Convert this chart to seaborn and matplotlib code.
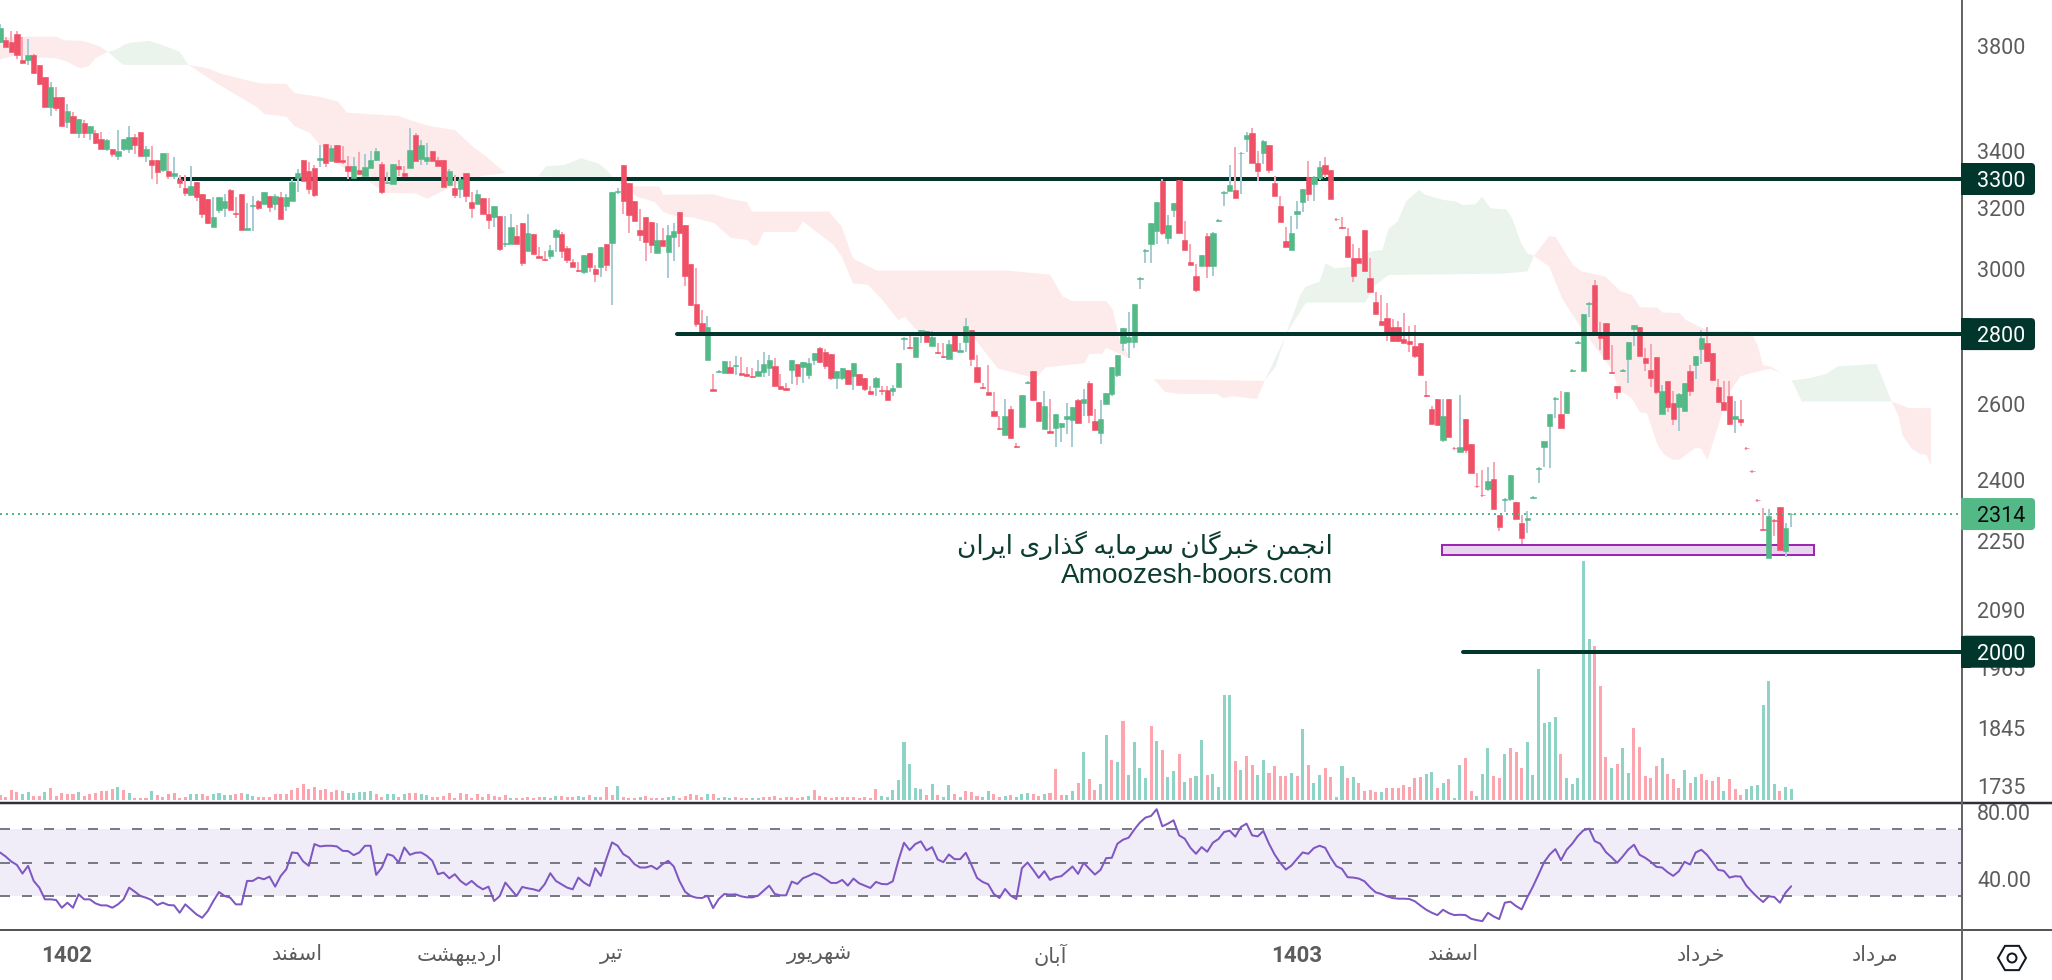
import numpy as np
import pandas as pd
import matplotlib
matplotlib.use("Agg")
import matplotlib.pyplot as plt
from matplotlib.lines import Line2D
from matplotlib.patches import FancyBboxPatch, RegularPolygon, Circle, Rectangle
from matplotlib.ticker import NullLocator
from matplotlib.transforms import IdentityTransform
import seaborn as sns

# ---------- data ----------
open_ = [
3815,3822,3817,3849,3743,3743,3763,3724,3677,3563,
3600,3600,3507,3528,3466,3502,3466,3466,3444,3407,
3407,3381,3407,3407,3451,3470,3381,3367,3367,3332,
3328,3311,3301,3269,3245,3290,3248,3231,3137,3193,
3200,3262,3183,3248,3127,3207,3224,3214,3241,3214,
3238,3207,3224,3302,3367,3328,3339,3367,3425,3363,
3421,3367,3345,3304,3332,3311,3339,3367,3353,3287,
3284,3345,3321,3339,3459,3370,3363,3399,3367,3367,
3280,3269,3266,3321,3220,3214,3234,3180,3170,3173,
3080,3080,3107,3150,3058,3114,3042,3032,3042,3104,
3114,3068,3022,2997,2991,3051,3000,3006,3080,3084,
3255,3349,3287,3224,3127,3170,3154,3051,3094,3055,
3104,3187,3144,3016,2891,2833,2724,2642,2690,2687,
2704,2707,2687,2684,2679,2679,2690,2701,2707,2651,
2645,2696,2713,2704,2681,2724,2759,2748,2742,2673,
2673,2696,2679,2684,2673,2636,2648,2639,2639,2636,
2648,2785,2762,2733,2808,2809,2765,2748,2736,2727,
2803,2748,2777,2812,2704,2648,2634,2581,2535,2516,
2586,2487,2537,2659,2693,2605,2532,2526,2535,2537,
2559,2556,2611,2603,2659,2554,2521,2600,2628,2681,
2774,2777,2777,2969,3059,3081,3124,3293,3101,3193,
3296,3094,3022,2978,3009,3107,3009,3157,3252,3258,
3262,3391,3444,3466,3356,3393,3422,3286,3206,3091,
3062,3180,3220,3307,3282,3303,3349,3331,3164,3135,
3106,3035,3035,3126,2972,2897,2839,2848,2821,2821,
2785,2780,2765,2774,2625,2587,2614,2503,2614,2482,
2472,2560,2493,2385,2362,2377,2402,2312,2349,2352,
2344,2293,2300,2354,2428,2485,2541,2614,2573,2576,
2693,2774,2693,2891,2950,2797,2833,2690,2651,2693,
2728,2815,2821,2730,2696,2733,2573,2665,2603,2592,
2581,2693,2710,2756,2774,2745,2648,2606,2622,2558,
2560,2482,2422,2349,2277,2209,2300,2332,2226,2314]
high = [
3887,3834,3862,3862,3834,3829,3767,3724,3677,3657,
3638,3600,3573,3542,3517,3513,3491,3477,3470,3444,
3407,3477,3444,3491,3462,3470,3418,3418,3367,3392,
3392,3377,3315,3315,3345,3290,3248,3231,3238,3238,
3248,3266,3238,3248,3217,3241,3227,3255,3241,3248,
3255,3248,3301,3335,3367,3359,3349,3421,3425,3421,
3421,3418,3381,3377,3396,3389,3399,3410,3359,3325,
3353,3367,3345,3484,3466,3440,3429,3399,3377,3367,
3335,3315,3308,3321,3255,3262,3234,3234,3207,3173,
3173,3180,3143,3150,3180,3114,3071,3058,3077,3130,
3120,3074,3032,3022,3045,3051,3012,3071,3080,3255,
3268,3349,3287,3224,3197,3170,3154,3150,3134,3143,
3150,3187,3144,3016,3003,2873,2854,2684,2696,2721,
2721,2736,2733,2704,2701,2724,2748,2739,2730,2684,
2659,2724,2713,2719,2730,2745,2762,2756,2742,2693,
2701,2696,2716,2684,2673,2651,2676,2651,2651,2653,
2716,2791,2794,2791,2811,2809,2809,2774,2774,2782,
2803,2774,2848,2812,2739,2659,2710,2634,2567,2614,
2595,2495,2625,2665,2693,2605,2636,2614,2572,2548,
2603,2592,2614,2642,2665,2586,2611,2631,2704,2739,
2818,2867,2891,2975,3065,3151,3220,3300,3177,3217,
3296,3157,3081,3016,3046,3117,3121,3164,3258,3349,
3415,3396,3470,3485,3400,3440,3422,3311,3241,3137,
3173,3224,3266,3362,3311,3362,3378,3331,3167,3170,
3133,3080,3068,3126,3035,2928,2919,2894,2845,2839,
2864,2824,2827,2774,2665,2595,2614,2614,2614,2485,
2625,2560,2493,2417,2425,2433,2446,2312,2354,2412,
2344,2312,2322,2359,2433,2501,2573,2620,2637,2634,
2699,2780,2861,2897,2966,2836,2833,2768,2651,2699,
2777,2827,2821,2759,2771,2733,2654,2665,2637,2631,
2660,2710,2736,2811,2821,2745,2671,2665,2665,2608,
2611,2485,2425,2352,2329,2327,2302,2332,2292,2317]
low = [
3811,3797,3776,3746,3733,3724,3689,3646,3563,3529,
3548,3491,3484,3466,3445,3445,3440,3425,3407,3399,
3379,3367,3399,3392,3389,3381,3359,3301,3284,3325,
3301,3301,3269,3241,3245,3224,3167,3147,3137,3183,
3170,3193,3167,3127,3127,3124,3193,3214,3187,3193,
3162,3190,3224,3255,3294,3248,3238,3342,3342,3363,
3356,3353,3301,3304,3318,3311,3339,3363,3248,3284,
3284,3311,3311,3339,3363,3349,3349,3363,3345,3272,
3276,3234,3234,3220,3167,3214,3180,3130,3137,3058,
3071,3080,3080,3009,3058,3048,3035,3025,3032,3055,
3035,3019,3006,2991,2985,2991,2960,2976,2994,2888,
3248,3180,3117,3157,3090,3025,3051,3051,3074,2972,
3025,3071,2947,2885,2821,2806,2724,2636,2687,2687,
2687,2681,2681,2679,2673,2679,2676,2679,2651,2642,
2636,2656,2653,2659,2670,2710,2716,2699,2667,2642,
2667,2653,2639,2651,2636,2628,2622,2625,2611,2622,
2648,2753,2756,2733,2774,2777,2765,2742,2730,2727,
2751,2748,2748,2707,2662,2642,2625,2567,2529,2516,
2508,2482,2537,2656,2608,2554,2532,2521,2484,2497,
2518,2484,2545,2567,2548,2529,2492,2600,2622,2676,
2751,2730,2759,2937,3019,3019,3081,3110,3081,3170,
3117,3062,3012,2928,3009,2972,2978,3154,3206,3258,
3234,3248,3396,3356,3293,3353,3321,3241,3153,3071,
3062,3130,3187,3224,3224,3296,3303,3231,3157,3130,
3039,2960,3019,2994,2928,2861,2827,2780,2777,2777,
2774,2748,2731,2682,2620,2547,2544,2498,2511,2477,
2472,2469,2417,2379,2357,2372,2327,2273,2320,2347,
2302,2242,2268,2352,2392,2433,2430,2563,2536,2576,
2690,2771,2693,2851,2803,2753,2725,2685,2614,2690,
2660,2765,2736,2693,2648,2628,2573,2579,2544,2527,
2581,2622,2671,2713,2719,2668,2606,2584,2544,2522,
2539,2477,2417,2345,2273,2209,2261,2228,2212,2282]
close = [
3873,3797,3776,3763,3733,3763,3694,3649,3563,3638,
3559,3491,3546,3466,3517,3466,3491,3429,3407,3440,
3389,3399,3444,3451,3421,3381,3407,3349,3325,3392,
3311,3321,3287,3252,3276,3238,3180,3150,3170,3238,
3224,3193,3181,3127,3134,3210,3200,3255,3203,3241,
3162,3238,3290,3321,3294,3266,3245,3374,3356,3410,
3359,3359,3328,3345,3318,3342,3367,3399,3255,3290,
3353,3335,3311,3403,3363,3421,3377,3363,3345,3272,
3328,3245,3301,3241,3200,3248,3180,3160,3207,3064,
3084,3137,3080,3019,3117,3048,3035,3029,3061,3127,
3058,3029,3006,2994,3045,3006,2985,3071,3012,3255,
3258,3224,3177,3157,3110,3087,3077,3094,3074,3110,
3124,3117,2978,2888,2830,2806,2821,2636,2693,2721,
2687,2710,2681,2679,2677,2693,2713,2724,2651,2642,
2639,2724,2679,2719,2716,2745,2719,2707,2673,2693,
2701,2656,2716,2653,2642,2628,2673,2637,2611,2645,
2716,2788,2758,2791,2811,2777,2791,2745,2733,2771,
2751,2753,2824,2727,2662,2645,2625,2567,2532,2567,
2508,2484,2625,2662,2611,2554,2595,2521,2572,2548,
2567,2592,2548,2614,2570,2529,2559,2631,2704,2739,
2818,2791,2891,2972,3062,3151,3220,3117,3144,3217,
3117,3062,3012,2934,3046,3009,3117,3160,3255,3279,
3234,3393,3459,3356,3328,3437,3331,3241,3153,3071,
3117,3190,3266,3248,3307,3342,3318,3231,3162,3133,
3039,2978,3019,2994,2928,2861,2827,2800,2780,2780,
2774,2771,2736,2682,2622,2547,2544,2568,2511,2481,
2485,2477,2417,2383,2360,2397,2327,2283,2352,2412,
2302,2256,2305,2357,2430,2501,2573,2618,2536,2634,
2696,2777,2861,2894,2803,2788,2728,2688,2634,2696,
2777,2827,2736,2716,2673,2634,2637,2592,2560,2628,
2660,2637,2736,2788,2722,2668,2606,2584,2547,2566,
2552,2481,2421,2348,2275,2310,2298,2228,2280,2315]

volume = [
5,3,10,8,6,8,4,4,8,12,4,7,6,6,8,4,6,7,9,9,11,13,10,7,
2,2,2,9,5,3,6,7,2,3,6,6,6,4,6,7,5,5,6,7,6,4,3,3,3,6,6,6,10,12,
16,11,13,10,11,8,10,9,7,7,8,8,9,6,3,6,6,3,6,7,7,6,5,3,3,4,7,2,7,6,
2,6,3,6,4,3,5,2,2,2,3,2,3,3,2,4,4,3,3,4,3,5,3,3,13,5,14,3,2,2,3,4,2,2,2,3,4,2,4,6,5,
3,6,6,2,3,2,3,2,2,2,2,3,3,4,2,3,3,2,3,4,10,4,3,2,3,3,3,3,2,3,
2,11,4,3,10,20,58,36,12,11,5,16,5,3,15,6,3,9,8,4,3,9,6,3,4,5,3,6,7,6,
4,6,7,31,5,5,9,17,48,21,10,16,65,40,38,79,25,58,32,22,74,59,50,23,29,46,18,22,24,60,
25,26,13,105,105,39,30,44,35,25,40,27,34,24,24,27,24,71,35,17,25,32,23,3,34,22,
23,17,9,10,8,8,12,12,12,15,13,22,23,26,28,12,17,21,2,35,
42,9,4,26,52,24,22,46,52,48,32,58,25,131,77,78,83,46,22,16,
22,239,161,154,114,43,32,36,52,27,72,53,24,22,34,42,26,21,12,30,
17,23,26,20,19,23,9,21,11,5,11,14,15,95,119,16,9,13,11]

# colour of each volume bar: T = rising (teal), P = falling (pink)
volume_dir = (
"PPPPTTPPTP" "PPPPTPPPPP" "PTPT"
"PPPTPPPPPP" "TTPPTTTTPP" "TTPPPPPPPP" "PPPPPPPPTT" "TTTPPTTPTP"
"PTTPPPPPPP" "PPPPPPPTPP" "PPPTPTPPPT" "TPTPPPTPPP" "TPPPPTTPPP" "P"
"PTPTTTPPPT" "TPPPPPPPPT" "PPPPPPPPPP" "PPTTTTTTTT" "PTPTTPTPPP"
"TTPPTPTTTP" "PTPPPTTPTP" "PTTPTPTTTT" "PTPTTPTPTT" "PTTTTPTPPT"
"TPPPPTPTPT" "TPPTTP"
"TPPPPTPPPP" "PPPTTPTPTT" "PPTTTPPTPP" "PTTTTTTPTT" "TTTPPPTPTT"
"PPPPPTPPPT" "PTPPPPTPPP" "TTTTTTPTT")

rsi = [
56,53.6,50.6,48.6,43.4,48,39,35,28,28,27.6,23,26,23,31,28,28,25.6,24.4,24.4,
23,25,28,35,32.6,30,29,27.6,24.6,26,24.6,24.4,20,25,22,19,17,21,27,32.4,
30,29,25,25,39,39,41,40,41.6,35.6,42,46,56,55.6,50.6,48,61,59.6,60,60,
59.6,57,56.8,54.4,56,60,60,42.6,47,55,54,50,59,54.6,55.8,56,54,51,43,44,
40.6,43,39,36.6,39,36,34,35.6,27,30,38,34,30,35.4,34.6,34,33,37,43.6,39,
37,35,34,41,38,36,46.6,42,52.4,62,60,55,53,49,47,47,48,46,49,51,
47.6,39,32.6,30,29,
28.8,30.2,22.8,28.2,31.2,30.8,31,29.8,29.2,29.2,30.2,33.2,36.2,31.2,30.4,30.4,38.6,37.2,40.6,42,
43.6,42.4,40.2,37.8,37.8,39.6,36.2,40.4,37.6,36.2,34.8,38.4,37.2,37,38.8,51.2,61.8,57.4,61,62.6,
57.2,59.2,51.8,50.2,54.8,52,52,55.8,48.6,40.8,38.4,37,31.2,28.8,34.2,30.2,28.2,46.6,50,45.6,
40.8,44.8,39.6,41.2,41.8,44.6,47.6,43.2,49.8,46.2,42.8,45.6,52.6,52.8,61.2,63.6,64.8,69.6,73.8,76.8,
77.8,81.8,71.6,73.2,75.2,66.2,64.2,58.8,55.2,59.2,56.4,61.8,64,68.2,69,65.4,71.2,73.2,66.2,65.6,
68.8,61.2,54.8,49.8,45.8,48.2,52.2,56,55.2,58.6,60,58.8,52.8,47.8,46.2,41.2,
41,40.4,38.8,35.2,32.2,31.2,29.8,28.8,28.4,28.4,28.2,26.8,24.2,21.8,20,18.6,21.8,19.8,18.6,18.8,
18.6,16.4,15.6,15,20,17.8,16.2,26,26.6,24,22,29.2,35.6,42.8,50.2,54.8,58,51.4,57.6,61.2,
65.8,69.2,70.2,62.8,61.2,56.2,53.2,49.8,53.6,57.8,60.6,54.6,52.8,50.4,47.4,47,44.2,42,44.8,50.4,
48.8,56,57.6,54.6,50.2,45.6,45,41,41.8,41.6,36.2,32.6,29.2,26.4,29.8,29.4,26,32,35.8]

# Ichimoku cloud outlines: (bar index, price) along upper and lower edge of each twist
cloud_r1_top = ([0,3.1,10,11.6,14.7,16.2,17.8,19.2],[3834,3837,3837,3822,3820,3810,3797,3776])
cloud_r1_bot = ([0,3.1,6.2,10,11.9,14.3,15.8,17,19.2],[3746,3763,3754,3750,3737,3710,3719,3750,3776])
cloud_g1_top = ([19.2,20.5,22,23.2,26.6,29.3,32,33.6],[3776,3783,3803,3812,3820,3800,3776,3724])
cloud_g1_bot = ([19.2,20.5,22,33.6],[3776,3750,3724,3724])
cloud_r2_top = ([33.6,37.1,39.4,43.2,46.3,51,52.5,57.1,60.2,61.8,71,73.4,76.4,81.1,84.2,86.5,90],
                [3724,3710,3689,3668,3652,3649,3614,3600,3582,3540,3528,3510,3491,3475,3415,3381,3321])
cloud_r2_bot = ([33.6,38.6,45.6,47.1,51,52.5,55.2,58.7,61.8,65.6,68.7,74.1,76.1,78,81.9,85.7,90],
                [3724,3652,3563,3535,3525,3489,3465,3379,3329,3292,3252,3250,3231,3250,3286,3310,3321])
cloud_g2_top = ([95.8,97.3,100.4,103.5,106.6,108,109.3],[3309,3345,3349,3373,3355,3332,3304])
cloud_g2_bot = ([95.8,109.3],[3309,3304])
cloud_r3_top = ([109.3,112.7,117.4,118.1,127.2,129.9,133,133.9,147.6,149.9,151.9,156.1,179.3,187,189.3,190.9,197,198.2,199.4,201.3],
                [3304,3274,3274,3245,3247,3231,3221,3188,3188,3138,3034,2995,2995,2982,2913,2900,2900,2873,2783,2729])
cloud_r3_bot = ([109.3,113.5,116.6,118.1,120.6,123.3,127.2,130.2,133,134.1,134.9,136,141.8,143,148.4,149.9,151.9,154.6,156.9,160,161.1,163.8,173.1,177.7,183.1,184.7,186.2,193.2,194,196.3,197,201.3],
                [3304,3238,3221,3187,3171,3169,3149,3100,3094,3076,3076,3120,3120,3155,3078,3040,2955,2950,2908,2842,2852,2802,2797,2700,2677,2677,2703,2715,2742,2742,2759,2729])
cloud_r4_top = ([205.5,225.2],[2669,2665])
cloud_r4_bot = ([205.5,207.5,209.8,216.7,217.9,219.4,223.9,225.2],[2669,2634,2628,2628,2616,2622,2614,2665])
cloud_g3_top = ([225.2,227.2,229.5,231.5,232.5,235,236.1,237.7,240.8,243.9,246.2,247.3,248.9,250.4,252.7,253.9,257,259.3,260.5,262.8,263.9,265.5,268.2,269.3,270.9,272,273.2],
                [2665,2705,2822,2915,2944,2960,3018,3002,3008,3056,3061,3131,3154,3222,3262,3245,3228,3222,3210,3213,3239,3199,3196,3166,3083,3051,3042])
cloud_g3_bot = ([225.2,229.5,232.6,243.1,245,247.3,267.4,272,273.2],[2665,2812,2895,2895,2950,2981,2985,2992,3042])
cloud_r5_top = ([273.2,275.9,277,280.1,281.7,285.9,288.6,290.6,292.1,295.2,296,299.1,300.2,302.5,304.5,311.8,313,314,315.3,317.2,319.1],
                [3042,3106,3104,3013,2992,2976,2930,2919,2881,2880,2865,2863,2843,2823,2809,2809,2768,2709,2706,2687,2666])
cloud_r5_bot = ([273.2,275.9,278.2,281.3,287.1,288.3,290.6,292.1,293.3,295.2,296.4,297.9,299.1,301.8,302.9,304.1,305.6,307.6,309.9,312.2,315.3,317.2,319.1],
                [3042,3008,2908,2825,2696,2640,2616,2577,2575,2490,2464,2451,2451,2481,2481,2451,2521,2621,2677,2688,2699,2687,2666])
cloud_g4_top = ([319.1,322.6,325.3,327.3,334.2,336.9],[2666,2673,2685,2706,2713,2607])
cloud_g4_bot = ([319.1,320.9,336.9],[2666,2607,2607])
cloud_r6_top = ([336.9,340,343.9],[2607,2589,2589])
cloud_r6_bot = ([336.9,338.1,338.8,340.4,341.9,343.1,343.9],[2607,2568,2516,2481,2466,2464,2435])

level_prices = [3300, 2800, 2000]
level_starts = [32, 120.6, 260.6]
level_layers = [2.5, 6, 6]
last_price = 2314
zone_low, zone_high = 2216, 2239
zone_start, zone_end = 256.8, 323.1

price_ticks = [3800, 3400, 3200, 3000, 2600, 2400, 2250, 2090, 1965, 1845, 1735]
rsi_ticks = [80, 40]
rsi_levels = [30, 50, 70]
time_ticks = [11.9, 52.9, 81.9, 109, 146, 187, 231, 258.8, 303, 333.9]
time_labels = ["1402", "اسفند", "اردیبهشت", "تیر", "شهریور", "آبان", "1403", "اسفند", "خرداد", "مرداد"]
watermark_fa = "انجمن خبرگان سرمایه گذاری ایران"
watermark_en = "Amoozesh-boors.com"

for name, arr in [("high", high), ("low", low), ("close", close), ("volume", volume), ("rsi", rsi), ("volume_dir", volume_dir)]:
    if len(arr) != len(open_):
        raise SystemExit(f"{name} length {len(arr)} != {len(open_)}")

# ---------- styling ----------
W, H = 2052, 980
sns.set_theme(style="white")
plt.rcParams["font.family"] = ["Roboto", "DejaVu Sans"]
GREEN, RED = "#53B987", "#EF5066"
WICK_G, WICK_R = "#A8CCD3", "#F7A8B4"
VOL_G, VOL_R = "#8FD3C7", "#FDA5AE"
DARK = "#01362C"
GREY = "#5C5C5C"
CLOUD_R, CLOUD_G = "#FDEBEC", "#EBF4EC"
PX = 72 / 100  # points per pixel

# matplotlib does not shape Arabic script, so pick the contextual glyphs here
FORMS = {"ا": (0xFE8D, 0xFE8E), "آ": (0xFE81, 0xFE82), "د": (0xFEA9, 0xFEAA), "ذ": (0xFEAB, 0xFEAC),
         "ر": (0xFEAD, 0xFEAE), "ز": (0xFEAF, 0xFEB0), "و": (0xFEED, 0xFEEE),
         "ب": (0xFE8F, 0xFE90, 0xFE91, 0xFE92), "پ": (0xFB56, 0xFB57, 0xFB58, 0xFB59),
         "ت": (0xFE95, 0xFE96, 0xFE97, 0xFE98), "ج": (0xFE9D, 0xFE9E, 0xFE9F, 0xFEA0),
         "خ": (0xFEA5, 0xFEA6, 0xFEA7, 0xFEA8), "س": (0xFEB1, 0xFEB2, 0xFEB3, 0xFEB4),
         "ش": (0xFEB5, 0xFEB6, 0xFEB7, 0xFEB8), "ف": (0xFED1, 0xFED2, 0xFED3, 0xFED4),
         "گ": (0xFB92, 0xFB93, 0xFB94, 0xFB95), "م": (0xFEE1, 0xFEE2, 0xFEE3, 0xFEE4),
         "ن": (0xFEE5, 0xFEE6, 0xFEE7, 0xFEE8), "ه": (0xFEE9, 0xFEEA, 0xFEEB, 0xFEEC),
         "ی": (0xFBFC, 0xFBFD, 0xFBFE, 0xFBFF)}

def shape(text):
    if not any(c in FORMS for c in text):
        return text
    out = []
    for i, c in enumerate(text):
        if c not in FORMS:
            out.append(c)
            continue
        prev_j = i > 0 and len(FORMS.get(text[i - 1], ())) == 4
        next_j = len(FORMS[c]) == 4 and i + 1 < len(text) and text[i + 1] in FORMS
        f = FORMS[c]
        if prev_j and next_j:
            g = f[3]
        elif prev_j:
            g = f[1]
        elif next_j:
            g = f[2]
        else:
            g = f[0]
        out.append(chr(g))
    return "".join(reversed(out))

fig = plt.figure(figsize=(W / 100, H / 100), dpi=100, facecolor="white")
main_rect = [0, (H - 802) / H, 1962 / W, 802 / H]
rsi_rect = [0, (H - 930) / H, 1962 / W, 128 / H]
ax_vol = fig.add_axes(main_rect, zorder=0)
ax = fig.add_axes(main_rect, zorder=1)
ax_rsi = fig.add_axes(rsi_rect, zorder=1)
ax.patch.set_visible(False)

n = len(open_)
idx = np.arange(n)
o, h, l, c = map(np.array, (open_, high, low, close))
up = c >= o
xlim = (0, 1962 / 5.615)

# volume
vol_df = pd.DataFrame({"bar": idx, "volume": volume, "dir": list(volume_dir)})
sns.barplot(data=vol_df, x="bar", y="volume", hue="dir", palette={"T": VOL_G, "P": VOL_R},
            native_scale=True, dodge=False, legend=False, ax=ax_vol, saturation=1)
for bar in ax_vol.patches:
    mid = bar.get_x() + bar.get_width() / 2
    bar.set_width(0.54)
    bar.set_x(mid - 0.27)
    bar.set_linewidth(0)
ax_vol.set_xlim(xlim)
ax_vol.set_ylim(-2, 800)
ax_vol.axis("off")

# price pane
ax.set_yscale("log")
clouds = [(CLOUD_R, cloud_r1_top, cloud_r1_bot), (CLOUD_G, cloud_g1_top, cloud_g1_bot),
          (CLOUD_R, cloud_r2_top, cloud_r2_bot), (CLOUD_G, cloud_g2_top, cloud_g2_bot),
          (CLOUD_R, cloud_r3_top, cloud_r3_bot), (CLOUD_R, cloud_r4_top, cloud_r4_bot),
          (CLOUD_G, cloud_g3_top, cloud_g3_bot), (CLOUD_R, cloud_r5_top, cloud_r5_bot),
          (CLOUD_G, cloud_g4_top, cloud_g4_bot), (CLOUD_R, cloud_r6_top, cloud_r6_bot)]
for col, top, bot in clouds:
    ax.fill(list(top[0]) + list(bot[0])[::-1], list(top[1]) + list(bot[1])[::-1],
            color=col, lw=0, zorder=1)

ax.add_patch(Rectangle((zone_start, zone_low), zone_end - zone_start, zone_high - zone_low,
                       facecolor="#EAD5F0", edgecolor="#9C27B0", lw=2 * PX, zorder=2))
ax.vlines(idx, l, h, colors=np.where(up, WICK_G, WICK_R), lw=2 * PX, zorder=3)
ax.bar(idx, np.abs(c - o), bottom=np.minimum(o, c), width=0.95,
       color=np.where(up, GREEN, RED), edgecolor=np.where(up, GREEN, RED), lw=0.4, zorder=4)
for p, s, z in zip(level_prices, level_starts, level_layers):
    ax.plot([s, xlim[1]], [p, p], color=DARK, lw=4 * PX, solid_capstyle="round", zorder=z)
ax.plot(xlim, [last_price, last_price], color=GREEN, lw=2 * PX, ls=(0, (1, 2)), zorder=5)

ax.set_xlim(xlim)
ax.set_ylim(3300 * np.exp(-623 / 944), 3300 * np.exp(179 / 944))
ax.yaxis.set_minor_locator(NullLocator())
ax.yaxis.tick_right()
ax.set_yticks(price_ticks)
ax.set_yticklabels([str(t) for t in price_ticks])
ax.set_xticks([])
ax.tick_params(axis="y", length=0, pad=15 * PX, labelsize=15.5, labelcolor=GREY)
for s in ax.spines.values():
    s.set_visible(False)

# RSI pane
ax_rsi.axhspan(rsi_levels[0], rsi_levels[-1], color="#F0EDF9", lw=0, zorder=0)
for lv in rsi_levels:
    ax_rsi.axhline(lv, color="#787B86", lw=2 * PX, ls=(0, (5, 6)), zorder=1)
sns.lineplot(x=idx, y=rsi, color="#7E57C2", lw=2 * PX, ax=ax_rsi, errorbar=None, zorder=3)
ax_rsi.set_xlim(xlim)
ax_rsi.set_ylim(30 - 34 / 1.675, 70 + 27 / 1.675)
ax_rsi.yaxis.tick_right()
ax_rsi.set_yticks(rsi_ticks)
ax_rsi.set_yticklabels([f"{t:.2f}" for t in rsi_ticks])
ax_rsi.tick_params(axis="y", length=0, pad=15 * PX, labelsize=15.5, labelcolor=GREY)
ax_rsi.set_xticks(time_ticks)
ax_rsi.set_xticklabels([shape(t) for t in time_labels])
ax_rsi.tick_params(axis="x", length=0, pad=10.5, labelsize=15, labelcolor=GREY)
for t, lab in zip(ax_rsi.get_xticklabels(), time_labels):
    if lab.isdigit():
        t.set_fontweight("bold")
        t.set_fontsize(16)
ax_rsi.set_xlabel("")
ax_rsi.set_ylabel("")
ax_rsi.patch.set_visible(False)
for s in ax_rsi.spines.values():
    s.set_visible(False)

# frame lines
def fx(x): return x / W
def fy(y): return 1 - y / H
fig.add_artist(Line2D([0, 1], [fy(802.5)] * 2, color="#2F3138", lw=2.5 * PX, zorder=5))
fig.add_artist(Line2D([0, 1], [fy(930)] * 2, color="#555555", lw=2 * PX, zorder=5))
fig.add_artist(Line2D([fx(1962)] * 2, [0, 1], color="#666666", lw=2 * PX, zorder=5))

# price tags on the axis
for p, fc, tc in [(3300, DARK, "white"), (2800, DARK, "white"), (2000, DARK, "white"), (last_price, GREEN, "#0B0B0B")]:
    yc = 179 + 944 * np.log(3300 / p)
    ydisp = H - yc
    fig.add_artist(FancyBboxPatch((1961, ydisp - 16), 74, 32, boxstyle="round,pad=0,rounding_size=4",
                                  transform=IdentityTransform(), fc=fc, ec="none", lw=0, zorder=8))
    fig.add_artist(Rectangle((1961, ydisp - 16), 10, 32, transform=IdentityTransform(), fc=fc, ec="none", lw=0, zorder=8))
    fig.text(fx(1977), fy(yc), str(p), color=tc, fontsize=15.5, ha="left", va="center_baseline", zorder=9)

# watermark
fig.text(fx(1333), fy(545), shape(watermark_fa), color="#0C3B30", fontsize=19, ha="right", va="center", zorder=9)
fig.text(fx(1333), fy(576), watermark_en, color="#0C3B30", fontsize=20.2, ha="right", va="center",
         family=["Liberation Sans"], zorder=9)

# settings glyph
fig.add_artist(RegularPolygon((2012, H - 958), 6, radius=14, orientation=np.pi / 6, transform=IdentityTransform(),
                              fill=False, ec="#131722", lw=2 * PX, zorder=8))
fig.add_artist(Circle((2012, H - 958), 4.5, transform=IdentityTransform(), fill=False, ec="#131722", lw=2 * PX, zorder=8))

fig.savefig("out.png", dpi=100)
